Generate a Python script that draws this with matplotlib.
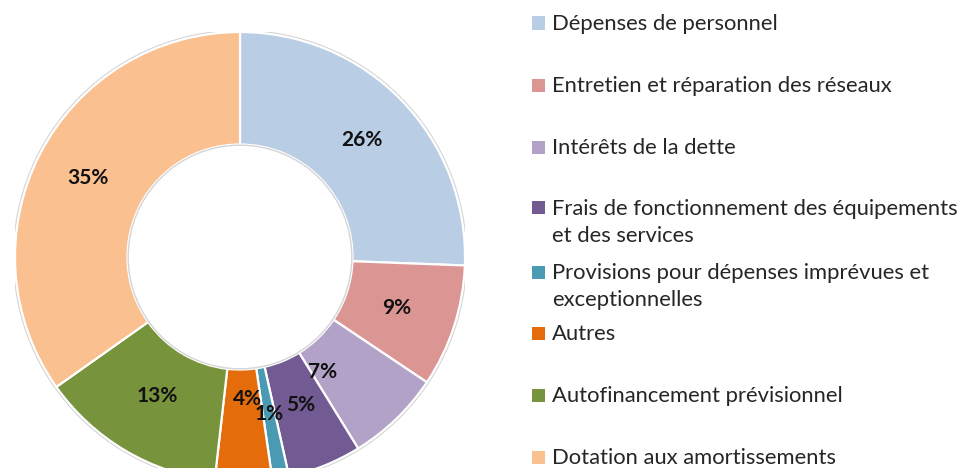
import matplotlib
matplotlib.use('Agg')
import numpy as np
import matplotlib.pyplot as plt
from matplotlib.patches import Rectangle, Circle

# ---------------- data ----------------
categories = [
    "Dépenses de personnel",
    "Entretien et réparation des réseaux",
    "Intérêts de la dette",
    "Frais de fonctionnement des équipements\net des services",
    "Provisions pour dépenses imprévues et\nexceptionnelles",
    "Autres",
    "Autofinancement prévisionnel",
    "Dotation aux amortissements",
]
values = [25.6, 8.8, 6.8, 5.3, 1.2, 4.1, 13.4, 34.8]
colors = ["#B9CDE5", "#DB9694", "#B3A2C7", "#725A92",
          "#4A9AB4", "#E46C0A", "#77933C", "#FAC090"]

# ---------------- style / layout ----------------
W, H = 961, 468
FONT = "Lato"
label_r = [0.75, 0.73, 0.63, 0.71, 0.71, 0.63, 0.72, 0.76]
label_frac = [0.5, 0.5, 0.83, 0.5, 0.5, 0.37, 0.5, 0.5]
legend_y = [23, 85, 147, 208, 272, 333, 395, 457]   # px from top, first line centre
line_gap = 27

fig = plt.figure(figsize=(W / 100, H / 100), dpi=100)
cx, cy, R = 240, 257, 225
ax = fig.add_axes([(cx - R) / W, 1 - (cy + R) / H, 2 * R / W, 2 * R / H])

wedges, _texts, autotexts = ax.pie(
    values, colors=colors, startangle=90, counterclock=False, radius=1,
    wedgeprops=dict(width=0.5, edgecolor="white", linewidth=1.6),
    autopct="%.0f%%", pctdistance=0.75,
    textprops=dict(fontsize=15, fontweight="bold", color="#111111", family=FONT),
)
# soft outline around ring
ax.add_patch(Circle((0, 0), 1.006, fc="none", ec="#d4d4d4", lw=1.2, zorder=0))
ax.add_patch(Circle((0, 0), 0.497, fc="none", ec="#d4d4d4", lw=1.0, zorder=3))

for w, t, r, f in zip(wedges, autotexts, label_r, label_frac):
    ang = np.deg2rad(w.theta2 - f * (w.theta2 - w.theta1))
    t.set_position((r * np.cos(ang), r * np.sin(ang)))

ax.set_xlim(-1, 1)
ax.set_ylim(-1, 1)
ax.set_aspect("equal")
ax.axis("off")

# ---------------- legend (manual) ----------------
def fy(px):
    return 1 - px / H

sq = 13
for cat, col, y in zip(categories, colors, legend_y):
    fig.patches.append(Rectangle((532 / W, fy(y + sq / 2)), sq / W, sq / H,
                                 transform=fig.transFigure, fc=col, ec="none"))
    for k, line in enumerate(cat.split("\n")):
        fig.text(552 / W, fy(y + k * line_gap + 7), line, family=FONT,
                 fontsize=15.8, color="#262626", va="baseline", ha="left")

fig.savefig("out.png", dpi=100, facecolor="white")
